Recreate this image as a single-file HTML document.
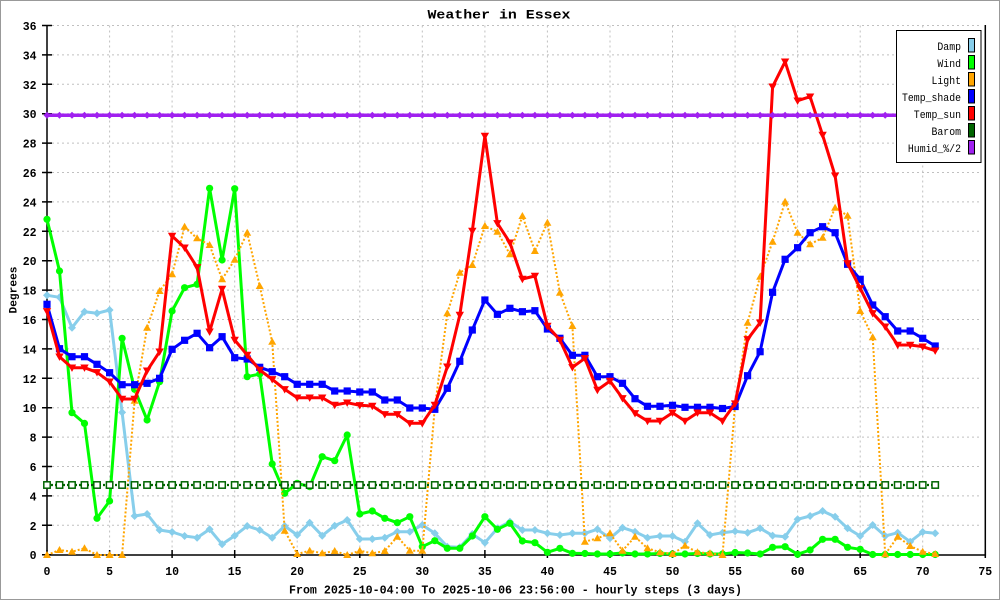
<!DOCTYPE html>
<html><head><meta charset="utf-8"><style>
html,body{margin:0;padding:0;background:#fff;}
svg{display:block;}
.tk{font-family:"Liberation Mono",monospace;font-weight:bold;font-size:11.5px;fill:#000;}
.lg{font-family:"Liberation Mono",monospace;font-size:11px;fill:#000;}
</style></head><body>
<svg width="1000" height="600" viewBox="0 0 1000 600" xmlns="http://www.w3.org/2000/svg">
<defs>
<marker id="mDamp" markerUnits="userSpaceOnUse" viewBox="-5 -5 10 10" markerWidth="10" markerHeight="10" refX="0" refY="0" overflow="visible"><path d="M0,-4 L4,0 L0,4 L-4,0 Z" fill="#87CEEB"/></marker>
<marker id="mWind" markerUnits="userSpaceOnUse" viewBox="-5 -5 10 10" markerWidth="10" markerHeight="10" refX="0" refY="0" overflow="visible"><circle r="3.6" fill="#00FF00"/></marker>
<marker id="mLight" markerUnits="userSpaceOnUse" viewBox="-5 -5 10 10" markerWidth="10" markerHeight="10" refX="0" refY="0" overflow="visible"><path d="M-4,3 L4,3 L0,-4 Z" fill="#FFA500"/></marker>
<marker id="mShade" markerUnits="userSpaceOnUse" viewBox="-5 -5 10 10" markerWidth="10" markerHeight="10" refX="0" refY="0" overflow="visible"><rect x="-3.6" y="-3.6" width="7.2" height="7.2" fill="#0000FF"/></marker>
<marker id="mSun" markerUnits="userSpaceOnUse" viewBox="-5 -5 10 10" markerWidth="10" markerHeight="10" refX="0" refY="0" overflow="visible"><path d="M-4.2,-3.2 L4.2,-3.2 L0,4.2 Z" fill="#FF0000"/></marker>
<marker id="mBarom" markerUnits="userSpaceOnUse" viewBox="-5 -5 10 10" markerWidth="10" markerHeight="10" refX="0" refY="0" overflow="visible"><rect x="-3.2" y="-3.2" width="6.4" height="6.4" fill="#fff" stroke="#006400" stroke-width="1.5"/></marker>
<marker id="mHumid" markerUnits="userSpaceOnUse" viewBox="-5 -5 10 10" markerWidth="10" markerHeight="10" refX="0" refY="0" overflow="visible"><path d="M0,-3.5 L3.5,0 L0,3.5 L-3.5,0 Z" fill="#A020F0"/></marker>
</defs>
<rect x="0.5" y="0.5" width="999" height="599" fill="#fff" stroke="#999" stroke-width="1"/>

<g stroke="#c0c0c0" stroke-width="1" stroke-dasharray="2,3" fill="none">
<path d="M52 25.5H980 M52 54.9H980 M52 84.3H980 M52 113.7H980 M52 143.1H980 M52 172.5H980 M52 201.9H980 M52 231.3H980 M52 260.7H980 M52 290.1H980 M52 319.5H980 M52 348.9H980 M52 378.3H980 M52 407.7H980 M52 437.1H980 M52 466.5H980 M52 495.9H980 M52 525.3H980"/>
<path d="M109.6 25.5V550 M172.1 25.5V550 M234.7 25.5V550 M297.2 25.5V550 M359.8 25.5V550 M422.3 25.5V550 M484.9 25.5V550 M547.4 25.5V550 M610 25.5V550 M672.5 25.5V550 M735.1 25.5V550 M797.6 25.5V550 M860.2 25.5V550 M922.7 25.5V550"/>
</g>

<g stroke="#000" stroke-width="1.5" fill="none">
<path d="M47 25 V555 H985.3 V25"/>
<path d="M42 25.5H52 M42 54.9H52 M42 84.3H52 M42 113.7H52 M42 143.1H52 M42 172.5H52 M42 201.9H52 M42 231.3H52 M42 260.7H52 M42 290.1H52 M42 319.5H52 M42 348.9H52 M42 378.3H52 M42 407.7H52 M42 437.1H52 M42 466.5H52 M42 495.9H52 M42 525.3H52 M42 554.7H52"/>
<path d="M47 550V558 M109.6 550V558 M172.1 550V558 M234.7 550V558 M297.2 550V558 M359.8 550V558 M422.3 550V558 M484.9 550V558 M547.4 550V558 M610 550V558 M672.5 550V558 M735.1 550V558 M797.6 550V558 M860.2 550V558 M922.7 550V558 M985.3 550V558"/>
</g>

<g class="tk" text-anchor="end">
<text x="36.5" y="30">36</text>
<text x="36.5" y="59.4">34</text>
<text x="36.5" y="88.8">32</text>
<text x="36.5" y="118.2">30</text>
<text x="36.5" y="147.6">28</text>
<text x="36.5" y="177">26</text>
<text x="36.5" y="206.4">24</text>
<text x="36.5" y="235.8">22</text>
<text x="36.5" y="265.2">20</text>
<text x="36.5" y="294.6">18</text>
<text x="36.5" y="324">16</text>
<text x="36.5" y="353.4">14</text>
<text x="36.5" y="382.8">12</text>
<text x="36.5" y="412.2">10</text>
<text x="36.5" y="441.6">8</text>
<text x="36.5" y="471">6</text>
<text x="36.5" y="500.4">4</text>
<text x="36.5" y="529.8">2</text>
<text x="36.5" y="559.2">0</text>
</g>
<g class="tk" text-anchor="middle">
<text x="47" y="575">0</text>
<text x="109.6" y="575">5</text>
<text x="172.1" y="575">10</text>
<text x="234.7" y="575">15</text>
<text x="297.2" y="575">20</text>
<text x="359.8" y="575">25</text>
<text x="422.3" y="575">30</text>
<text x="484.9" y="575">35</text>
<text x="547.4" y="575">40</text>
<text x="610" y="575">45</text>
<text x="672.5" y="575">50</text>
<text x="735.1" y="575">55</text>
<text x="797.6" y="575">60</text>
<text x="860.2" y="575">65</text>
<text x="922.7" y="575">70</text>
<text x="985.3" y="575">75</text>
</g>

<text x="427.5" y="18.3" font-family="Liberation Mono, monospace" font-weight="bold" font-size="13" textLength="143" lengthAdjust="spacingAndGlyphs">Weather in Essex</text>
<text x="289" y="593.3" font-family="Liberation Mono, monospace" font-weight="bold" font-size="11.5" textLength="453" lengthAdjust="spacingAndGlyphs">From 2025-10-04:00 To 2025-10-06 23:56:00 - hourly steps (3 days)</text>
<text transform="translate(16.5,313.5) rotate(-90)" font-family="Liberation Mono, monospace" font-weight="bold" font-size="11" textLength="47" lengthAdjust="spacingAndGlyphs">Degrees</text>

<polyline fill="none" stroke="#87CEEB" stroke-width="3" stroke-linejoin="round" marker-start="url(#mDamp)" marker-mid="url(#mDamp)" marker-end="url(#mDamp)" points="47,295.3 59.5,297.3 72,327.7 84.5,311.7 97,313.3 109.6,310 122.1,412.4 134.6,516 147.1,514 159.6,530 172.1,532 184.6,536 197.1,537.7 209.6,529.3 222.1,544.3 234.7,535.7 247.2,526 259.7,530 272.2,537.7 284.7,526 297.2,535 309.7,522.7 322.2,535.7 334.7,525.7 347.2,520 359.8,539 372.3,539 384.8,537.7 397.3,531.7 409.8,531.7 422.3,525 434.8,533.3 447.3,546.7 459.8,547.3 472.3,534 484.9,542.7 497.4,528.3 509.9,521.7 522.4,530 534.9,530 547.4,533.3 559.9,535 572.4,533.3 584.9,533.3 597.4,529.3 610,538.3 622.5,527.7 635,531.7 647.5,537.7 660,536 672.5,536 685,541.7 697.5,523.3 710,535 722.5,532.7 735.1,531.2 747.6,532.7 760.1,528.3 772.6,535.6 785.1,536.7 797.6,519.3 810.1,516 822.6,511 835.1,516.7 847.6,528.3 860.2,536 872.7,525 885.2,536 897.7,532.7 910.2,541.7 922.7,532 935.2,533.3"/>

<polyline fill="none" stroke="#00FF00" stroke-width="3" stroke-linejoin="round" marker-start="url(#mWind)" marker-mid="url(#mWind)" marker-end="url(#mWind)" points="47,219.3 59.5,271 72,412.7 84.5,423.4 97,518.3 109.6,501 122.1,338.3 134.6,389.3 147.1,420 159.6,381.7 172.1,311 184.6,287.7 197.1,284.3 209.6,188.3 222.1,260 234.7,188.7 247.2,376.7 259.7,374 272.2,464 284.7,493.3 297.2,483.3 309.7,486.7 322.2,456.7 334.7,460.7 347.2,435 359.8,514 372.3,511 384.8,518.3 397.3,522.7 409.8,516.7 422.3,546.7 434.8,540.7 447.3,548.3 459.8,548.3 472.3,536 484.9,516.7 497.4,529.3 509.9,523.3 522.4,541 534.9,542.7 547.4,552.3 559.9,548.3 572.4,553.3 584.9,553.5 597.4,554 610,554 622.5,553 635,554 647.5,554 660,553.5 672.5,554 685,554 697.5,553.5 710,554 722.5,554 735.1,552.5 747.6,553 760.1,554 772.6,547.3 785.1,546.7 797.6,554.3 810.1,550 822.6,539.3 835.1,539.3 847.6,547.3 860.2,549.3 872.7,554.5 885.2,554.5 897.7,554.5 910.2,554.5 922.7,554.5 935.2,554.5"/>

<polyline fill="none" stroke="#FFA500" stroke-width="2" stroke-dasharray="2,2" marker-start="url(#mLight)" marker-mid="url(#mLight)" marker-end="url(#mLight)" points="47,555 59.5,550 72,551.7 84.5,548.3 97,555 109.6,555 122.1,555 134.6,400.7 147.1,327.7 159.6,291 172.1,274.3 184.6,226.7 197.1,238.3 209.6,245 222.1,279.3 234.7,259.7 247.2,232.7 259.7,286 272.2,341.7 284.7,530.7 297.2,554 309.7,550.7 322.2,553.3 334.7,551 347.2,555 359.8,550.7 372.3,553.3 384.8,551 397.3,536.7 409.8,550.7 422.3,550.7 434.8,408 447.3,313.3 459.8,272.7 472.3,265 484.9,226 497.4,231.7 509.9,254.3 522.4,216 534.9,251 547.4,222.7 559.9,292.7 572.4,326 584.9,541.7 597.4,538.3 610,533.3 622.5,550.7 635,536.7 647.5,548.3 660,552.3 672.5,554 685,545.7 697.5,552.3 710,553.3 722.5,555 735.1,405 747.6,322.7 760.1,276.7 772.6,241.7 785.1,201.7 797.6,232.7 810.1,244.3 822.6,237.7 835.1,207.7 847.6,215.7 860.2,311 872.7,337.3 885.2,554.3 897.7,536.7 910.2,546 922.7,551.7 935.2,554"/>

<polyline fill="none" stroke="#0000FF" stroke-width="3" stroke-linejoin="round" marker-start="url(#mShade)" marker-mid="url(#mShade)" marker-end="url(#mShade)" points="47,304.3 59.5,348.7 72,356.7 84.5,356.7 97,364.3 109.6,372.7 122.1,384.7 134.6,384.7 147.1,383.3 159.6,378.3 172.1,349.3 184.6,340.3 197.1,333.3 209.6,347.7 222.1,336.7 234.7,357.7 247.2,359 259.7,367.3 272.2,371.7 284.7,376.7 297.2,384.3 309.7,384.3 322.2,384.3 334.7,391 347.2,391 359.8,392 372.3,392 384.8,400 397.3,400 409.8,408 422.3,408 434.8,409.3 447.3,388.3 459.8,361.3 472.3,330 484.9,300 497.4,314.3 509.9,308.3 522.4,311.7 534.9,310.7 547.4,329 559.9,338.3 572.4,355.3 584.9,355.3 597.4,376.7 610,376.7 622.5,383.3 635,398.7 647.5,406.3 660,406.3 672.5,405.3 685,407.3 697.5,407.3 710,407.3 722.5,408.5 735.1,406.5 747.6,375.7 760.1,351.7 772.6,292.3 785.1,259.3 797.6,247.7 810.1,232.7 822.6,226.7 835.1,232.7 847.6,264.3 860.2,279.3 872.7,305 885.2,316.7 897.7,331 910.2,331 922.7,338.3 935.2,346"/>

<polyline fill="none" stroke="#FF0000" stroke-width="3" stroke-linejoin="round" marker-start="url(#mSun)" marker-mid="url(#mSun)" marker-end="url(#mSun)" points="47,311.3 59.5,356.7 72,367.7 84.5,367.7 97,372.3 109.6,381.7 122.1,399 134.6,399 147.1,370.7 159.6,351.7 172.1,236 184.6,247.7 197.1,267.3 209.6,331.7 222.1,289 234.7,340 247.2,355 259.7,370 272.2,379.3 284.7,389.3 297.2,397.7 309.7,397.7 322.2,397.7 334.7,405 347.2,402.7 359.8,405.3 372.3,406 384.8,414.3 397.3,414.3 409.8,423.3 422.3,423.3 434.8,405 447.3,366.7 459.8,315 472.3,231 484.9,136 497.4,223.3 509.9,242.7 522.4,279 534.9,276 547.4,326 559.9,340 572.4,367.3 584.9,358.3 597.4,390 610,381 622.5,398.3 635,413.3 647.5,421 660,421 672.5,412.7 685,421 697.5,412.7 710,412.7 722.5,421 735.1,403.6 747.6,339.3 760.1,322.7 772.6,86.7 785.1,61.7 797.6,100.7 810.1,96.7 822.6,135 835.1,175.7 847.6,263.3 860.2,288.3 872.7,313.3 885.2,326.7 897.7,345 910.2,345 922.7,346.7 935.2,350.7"/>

<polyline fill="none" stroke="#006400" stroke-width="2.2" stroke-dasharray="2,2" marker-start="url(#mBarom)" marker-mid="url(#mBarom)" marker-end="url(#mBarom)" points="47,485 59.5,485 72,485 84.5,485 97,485 109.6,485 122.1,485 134.6,485 147.1,485 159.6,485 172.1,485 184.6,485 197.1,485 209.6,485 222.1,485 234.7,485 247.2,485 259.7,485 272.2,485 284.7,485 297.2,485 309.7,485 322.2,485 334.7,485 347.2,485 359.8,485 372.3,485 384.8,485 397.3,485 409.8,485 422.3,485 434.8,485 447.3,485 459.8,485 472.3,485 484.9,485 497.4,485 509.9,485 522.4,485 534.9,485 547.4,485 559.9,485 572.4,485 584.9,485 597.4,485 610,485 622.5,485 635,485 647.5,485 660,485 672.5,485 685,485 697.5,485 710,485 722.5,485 735.1,485 747.6,485 760.1,485 772.6,485 785.1,485 797.6,485 810.1,485 822.6,485 835.1,485 847.6,485 860.2,485 872.7,485 885.2,485 897.7,485 910.2,485 922.7,485 935.2,485"/>

<polyline fill="none" stroke="#A020F0" stroke-width="3.5" marker-start="url(#mHumid)" marker-mid="url(#mHumid)" marker-end="url(#mHumid)" points="47,115.3 59.5,115.3 72,115.3 84.5,115.3 97,115.3 109.6,115.3 122.1,115.3 134.6,115.3 147.1,115.3 159.6,115.3 172.1,115.3 184.6,115.3 197.1,115.3 209.6,115.3 222.1,115.3 234.7,115.3 247.2,115.3 259.7,115.3 272.2,115.3 284.7,115.3 297.2,115.3 309.7,115.3 322.2,115.3 334.7,115.3 347.2,115.3 359.8,115.3 372.3,115.3 384.8,115.3 397.3,115.3 409.8,115.3 422.3,115.3 434.8,115.3 447.3,115.3 459.8,115.3 472.3,115.3 484.9,115.3 497.4,115.3 509.9,115.3 522.4,115.3 534.9,115.3 547.4,115.3 559.9,115.3 572.4,115.3 584.9,115.3 597.4,115.3 610,115.3 622.5,115.3 635,115.3 647.5,115.3 660,115.3 672.5,115.3 685,115.3 697.5,115.3 710,115.3 722.5,115.3 735.1,115.3 747.6,115.3 760.1,115.3 772.6,115.3 785.1,115.3 797.6,115.3 810.1,115.3 822.6,115.3 835.1,115.3 847.6,115.3 860.2,115.3 872.7,115.3 885.2,115.3 897.7,115.3 910.2,115.3 922.7,115.3 935.2,115.3"/>

<rect x="896.5" y="30.5" width="84.5" height="132" fill="#fff" stroke="#000" stroke-width="1"/>
<g class="lg" text-anchor="end">
<text x="961" y="50" textLength="23.6" lengthAdjust="spacingAndGlyphs">Damp</text>
<text x="961" y="67" textLength="23.6" lengthAdjust="spacingAndGlyphs">Wind</text>
<text x="961" y="84" textLength="29.5" lengthAdjust="spacingAndGlyphs">Light</text>
<text x="961" y="101" textLength="59" lengthAdjust="spacingAndGlyphs">Temp_shade</text>
<text x="961" y="118" textLength="47.2" lengthAdjust="spacingAndGlyphs">Temp_sun</text>
<text x="961" y="135" textLength="29.5" lengthAdjust="spacingAndGlyphs">Barom</text>
<text x="961" y="152" textLength="53.1" lengthAdjust="spacingAndGlyphs">Humid_%/2</text>
</g>
<g stroke="#000" stroke-width="1">
<rect x="968.5" y="38.5" width="6" height="13.5" fill="#87CEEB"/>
<rect x="968.5" y="55.5" width="6" height="13.5" fill="#00FF00"/>
<rect x="968.5" y="72.5" width="6" height="13.5" fill="#FFA500"/>
<rect x="968.5" y="89.5" width="6" height="13.5" fill="#0000FF"/>
<rect x="968.5" y="106.5" width="6" height="13.5" fill="#FF0000"/>
<rect x="968.5" y="123.5" width="6" height="13.5" fill="#006400"/>
<rect x="968.5" y="140.5" width="6" height="13.5" fill="#A020F0"/>
</g>
</svg>
</body></html>
